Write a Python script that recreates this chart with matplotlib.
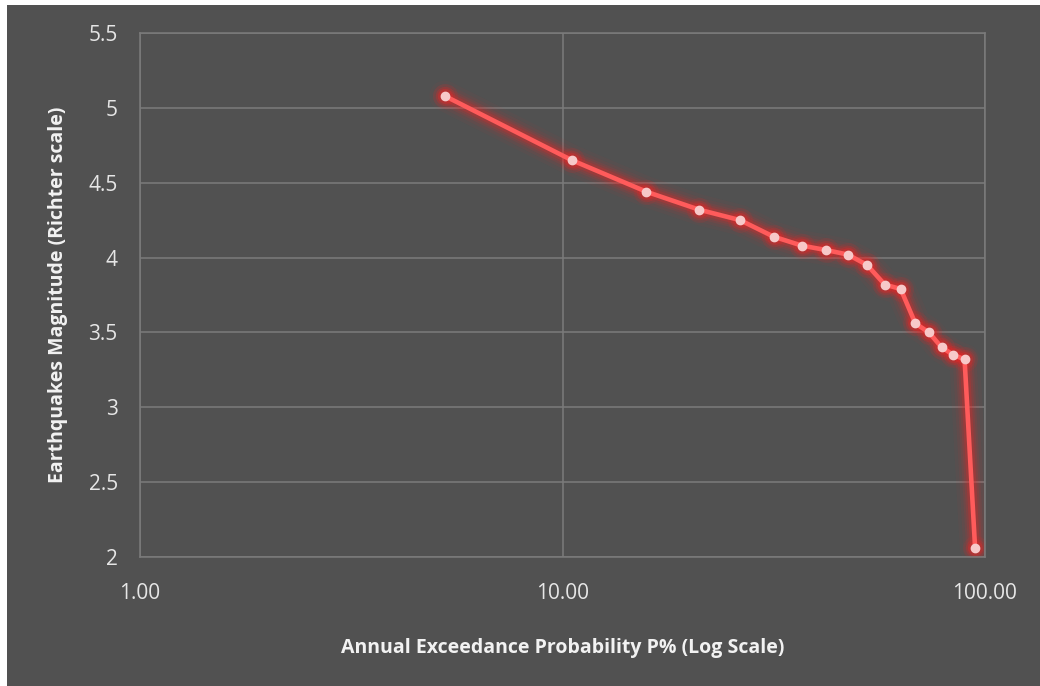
import matplotlib
matplotlib.use("Agg")
import matplotlib.pyplot as plt
from matplotlib.patches import Rectangle
from matplotlib.ticker import FixedLocator, FixedFormatter, NullLocator

# annual exceedance probability (%) and magnitude
prob_pct = [5.26, 10.53, 15.79, 21.05, 26.32, 31.58, 36.84, 42.11, 47.37,
            52.63, 57.89, 63.16, 68.42, 73.68, 78.95, 84.21, 89.47, 94.74]
magnitude = [5.08, 4.65, 4.44, 4.32, 4.25, 4.14, 4.08, 4.05, 4.02,
             3.95, 3.82, 3.79, 3.56, 3.50, 3.40, 3.35, 3.32, 2.06]

x_ticks = [1, 10, 100]
x_labels = ["1.00", "10.00", "100.00"]
y_ticks = [2, 2.5, 3, 3.5, 4, 4.5, 5, 5.5]
y_labels = ["2", "2.5", "3", "3.5", "4", "4.5", "5", "5.5"]

bg = "#515151"
grid_col = "#7b7b7b"
line_col = "#ff5b5b"
marker_col = "#f7c9c9"

plt.rcParams["font.family"] = ["Open Sans", "DejaVu Sans"]

W, H = 1040, 686
fig = plt.figure(figsize=(W / 100, H / 100), dpi=100)
fig.patch.set_facecolor("white")
fig.patches.append(Rectangle((7 / W, 0), 1 - 7 / W, 1 - 5 / H,
                             transform=fig.transFigure, facecolor=bg,
                             edgecolor="none", zorder=-10))

ax = fig.add_axes([140 / W, 1 - 557 / H, (985 - 140) / W, (557 - 33) / H])
ax.set_facecolor(bg)
ax.set_xscale("log")
ax.set_xlim(1, 100)
ax.set_ylim(2, 5.5)

ax.xaxis.set_major_locator(FixedLocator(x_ticks))
ax.xaxis.set_major_formatter(FixedFormatter(x_labels))
ax.xaxis.set_minor_locator(NullLocator())
ax.yaxis.set_major_locator(FixedLocator(y_ticks))
ax.yaxis.set_major_formatter(FixedFormatter(y_labels))

ax.grid(True, color=grid_col, linewidth=1.1)
ax.set_axisbelow(True)
for s in ax.spines.values():
    s.set_color(grid_col)
    s.set_linewidth(1.1)
ax.tick_params(axis="both", length=0, labelsize=15, labelcolor="#e6e6e6")
ax.tick_params(axis="y", pad=16)
ax.tick_params(axis="x", pad=19)

# glow
for lw, a in [(22, 0.04), (17, 0.06), (13, 0.09), (10, 0.13), (7, 0.2)]:
    ax.plot(prob_pct, magnitude, color="#ff2020", linewidth=lw, alpha=a,
            solid_capstyle="round", solid_joinstyle="round")
for ms, a in [(18, 0.1), (14, 0.15), (11, 0.2)]:
    ax.plot(prob_pct, magnitude, linestyle="none", marker="o", markersize=ms,
            color="#ff2020", alpha=a, markeredgewidth=0)

ax.plot(prob_pct, magnitude, color=line_col, linewidth=3.3,
        solid_joinstyle="round", solid_capstyle="round")
ax.plot(prob_pct, magnitude, linestyle="none", marker="o", markersize=6,
        markerfacecolor=marker_col, markeredgecolor=marker_col)

ax.set_xlabel("Annual Exceedance Probability P% (Log Scale)", fontsize=14,
              fontweight="bold", color="#f2f2f2", labelpad=24)
ax.set_ylabel("Earthquakes Magnitude (Richter scale)", fontsize=14,
              fontweight="bold", color="#f2f2f2", labelpad=15)

fig.savefig("out.png", dpi=100, facecolor=fig.get_facecolor())
